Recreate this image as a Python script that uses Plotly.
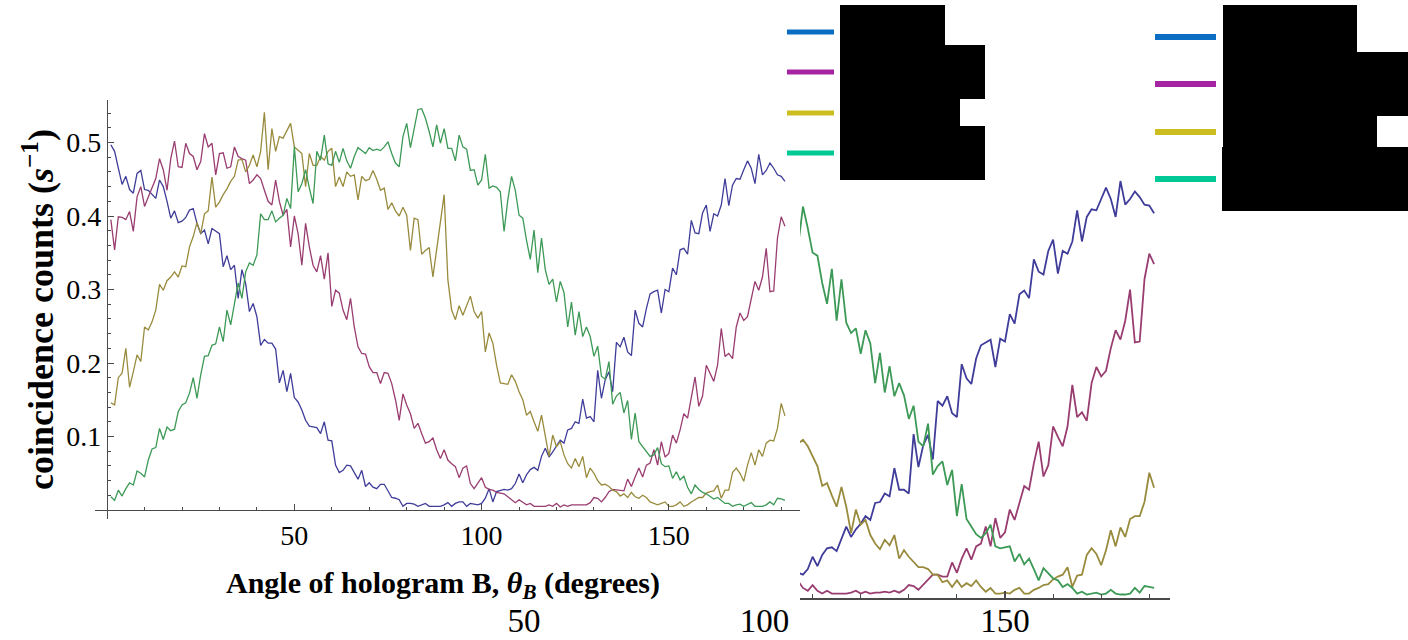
import plotly.graph_objects as go

# ---------------- data ----------------
angles_main = list(range(1, 182))          # theta_B (degrees), left chart
angles_inset = list(range(107, 182))       # theta_B (degrees), right chart (visible part)

blue_main = [0.497,0.488,0.465,0.443,0.454,0.436,0.431,0.458,0.462,0.436,0.435,0.429,0.424,0.449,0.440,0.420,0.397,0.407,0.391,0.393,0.398,0.408,0.410,0.390,0.376,0.381,0.362,0.383,0.379,0.376,0.331,0.346,0.327,0.333,0.288,0.327,0.308,0.270,0.281,0.263,0.224,0.232,0.227,0.227,0.219,0.173,
             0.190,0.161,0.186,0.153,0.147,0.136,0.122,0.114,0.113,0.112,0.104,0.120,0.095,0.094,0.061,0.051,0.054,0.061,0.060,0.050,0.042,0.054,0.032,0.037,0.031,0.029,0.035,0.035,0.025,0.017,0.016,0.014,0.005,0.009,0.009,0.008,0.005,0.007,0.009,0.005,0.005,0.005,0.005,0.007,0.010,
             0.005,0.009,0.011,0.011,0.005,0.009,0.008,0.007,0.009,0.016,0.029,0.011,0.025,0.027,0.028,0.027,0.029,0.036,0.049,0.037,0.048,0.055,0.058,0.054,0.073,0.084,0.072,0.079,0.088,0.095,0.091,0.109,0.111,0.120,0.118,0.151,0.125,0.127,0.120,0.190,0.152,0.177,0.188,0.161,0.228,0.222,
             0.235,0.215,0.210,0.272,0.254,0.249,0.274,0.294,0.297,0.299,0.268,0.300,0.297,0.329,0.320,0.354,0.356,0.348,0.394,0.377,0.376,0.404,0.415,0.379,0.403,0.400,0.415,0.451,0.414,0.442,0.451,0.450,0.463,0.475,0.465,0.444,0.484,0.456,0.462,0.472,0.465,0.456,0.454,0.447]
magenta_main = [0.395,0.354,0.399,0.398,0.395,0.406,0.379,0.426,0.440,0.413,0.426,0.438,0.451,0.478,0.463,0.435,0.478,0.502,0.467,0.466,0.499,0.485,0.481,0.463,0.474,0.512,0.494,0.499,0.456,0.485,0.486,0.465,0.467,0.494,0.481,0.478,0.476,0.444,0.449,0.456,0.451,0.435,0.420,0.415,0.449,0.420,
                0.401,0.409,0.358,0.400,0.376,0.333,0.390,0.358,0.333,0.324,0.346,0.314,0.350,0.277,0.299,0.295,0.272,0.259,0.288,0.249,0.222,0.213,0.212,0.195,0.187,0.187,0.172,0.187,0.186,0.172,0.150,0.122,0.158,0.143,0.131,0.111,0.118,0.104,0.091,0.093,0.098,0.082,0.070,0.082,0.068,
                0.063,0.059,0.044,0.057,0.060,0.036,0.029,0.036,0.044,0.031,0.028,0.027,0.024,0.023,0.022,0.018,0.014,0.010,0.014,0.011,0.007,0.009,0.005,0.005,0.005,0.005,0.007,0.005,0.009,0.004,0.007,0.005,0.007,0.007,0.008,0.007,0.007,0.010,0.017,0.016,0.011,0.017,0.025,0.028,0.027,0.027,
                0.026,0.042,0.032,0.045,0.057,0.045,0.061,0.064,0.082,0.061,0.093,0.072,0.077,0.102,0.091,0.109,0.131,0.125,0.156,0.181,0.141,0.155,0.197,0.186,0.175,0.197,0.247,0.209,0.213,0.206,0.249,0.268,0.258,0.263,0.288,0.311,0.299,0.317,0.356,0.297,0.298,0.370,0.399,0.386]
olive_main = [0.146,0.143,0.180,0.186,0.220,0.167,0.188,0.211,0.202,0.249,0.245,0.256,0.272,0.307,0.299,0.312,0.317,0.324,0.317,0.332,0.331,0.358,0.372,0.391,0.376,0.403,0.407,0.453,0.412,0.419,0.429,0.437,0.447,0.454,0.476,0.477,0.460,0.469,0.483,0.467,0.488,0.541,0.463,0.519,0.488,0.508,
              0.506,0.515,0.526,0.494,0.490,0.485,0.440,0.485,0.469,0.469,0.481,0.476,0.488,0.492,0.440,0.453,0.440,0.460,0.454,0.456,0.422,0.454,0.448,0.450,0.462,0.450,0.435,0.438,0.409,0.418,0.407,0.400,0.412,0.401,0.353,0.397,0.395,0.348,0.353,0.357,0.317,0.354,0.385,0.429,0.313,
              0.272,0.259,0.278,0.265,0.278,0.291,0.270,0.261,0.270,0.215,0.241,0.227,0.197,0.173,0.172,0.171,0.184,0.175,0.161,0.150,0.129,0.134,0.120,0.107,0.129,0.102,0.073,0.102,0.086,0.093,0.075,0.063,0.057,0.070,0.059,0.073,0.044,0.057,0.050,0.040,0.034,0.035,0.032,0.027,0.025,0.019,
              0.022,0.017,0.024,0.018,0.016,0.020,0.017,0.011,0.009,0.007,0.009,0.011,0.005,0.005,0.007,0.011,0.005,0.007,0.011,0.014,0.017,0.017,0.023,0.025,0.026,0.034,0.016,0.027,0.027,0.051,0.057,0.050,0.039,0.061,0.078,0.061,0.082,0.073,0.091,0.095,0.094,0.111,0.145,0.128]
green_main = [0.018,0.013,0.027,0.019,0.029,0.037,0.034,0.053,0.050,0.045,0.068,0.083,0.085,0.111,0.096,0.113,0.108,0.110,0.134,0.143,0.146,0.159,0.180,0.152,0.184,0.209,0.210,0.224,0.226,0.249,0.229,0.272,0.252,0.281,0.309,0.288,0.324,0.336,0.333,0.347,0.403,0.395,0.395,0.407,0.392,0.397,
              0.401,0.424,0.410,0.494,0.433,0.444,0.463,0.438,0.417,0.488,0.476,0.510,0.471,0.469,0.488,0.473,0.492,0.475,0.465,0.481,0.493,0.489,0.485,0.493,0.489,0.491,0.489,0.494,0.501,0.485,0.472,0.467,0.508,0.526,0.493,0.519,0.545,0.546,0.533,0.515,0.494,0.524,0.499,0.519,0.492,
              0.492,0.475,0.510,0.494,0.491,0.462,0.463,0.442,0.449,0.484,0.438,0.441,0.439,0.433,0.379,0.422,0.454,0.435,0.401,0.397,0.367,0.341,0.381,0.323,0.370,0.327,0.307,0.314,0.283,0.311,0.296,0.249,0.283,0.238,0.270,0.236,0.249,0.236,0.209,0.223,0.182,0.178,0.202,0.144,0.155,0.160,
              0.132,0.149,0.096,0.132,0.093,0.086,0.079,0.073,0.075,0.085,0.063,0.059,0.060,0.043,0.052,0.041,0.046,0.031,0.022,0.034,0.028,0.024,0.022,0.019,0.015,0.017,0.013,0.009,0.009,0.005,0.007,0.008,0.005,0.007,0.010,0.005,0.005,0.005,0.007,0.011,0.007,0.016,0.015,0.013]

blue_inset = [0.027,0.025,0.031,0.044,0.034,0.046,0.053,0.054,0.050,0.064,0.076,0.065,0.073,0.079,0.087,0.083,0.101,0.102,0.111,0.108,0.138,0.115,0.115,0.111,0.174,0.139,0.162,0.173,0.147,0.209,0.204,0.214,0.196,0.192,0.248,0.233,0.227,0.254,0.268,
              0.271,0.274,0.245,0.275,0.272,0.301,0.291,0.322,0.326,0.318,0.359,0.346,0.343,0.368,0.380,0.344,0.368,0.365,0.378,0.411,0.378,0.404,0.412,0.411,0.423,0.435,0.423,0.404,0.442,0.417,0.423,0.431,0.425,0.417,0.416,0.408]
magenta_inset = [0.018,0.011,0.008,0.014,0.008,0.005,0.008,0.005,0.005,0.005,0.005,0.006,0.008,0.005,0.007,0.005,0.006,0.006,0.007,0.006,0.008,0.006,0.009,0.014,0.013,0.009,0.014,0.020,0.025,0.025,0.023,0.023,0.038,0.027,0.042,0.053,0.041,0.055,0.058,
                 0.076,0.055,0.085,0.064,0.070,0.094,0.083,0.101,0.119,0.115,0.143,0.166,0.129,0.141,0.182,0.171,0.161,0.182,0.226,0.192,0.197,0.188,0.228,0.245,0.235,0.241,0.265,0.284,0.274,0.294,0.327,0.271,0.272,0.338,0.365,0.354]
olive_inset = [0.164,0.168,0.161,0.150,0.140,0.119,0.122,0.109,0.097,0.118,0.097,0.069,0.094,0.078,0.083,0.067,0.058,0.052,0.062,0.056,0.067,0.042,0.051,0.044,0.038,0.033,0.033,0.031,0.025,0.025,0.017,0.019,0.012,0.019,0.012,0.016,0.013,0.019,0.012,
               0.007,0.011,0.005,0.005,0.006,0.005,0.009,0.011,0.005,0.005,0.009,0.011,0.014,0.015,0.020,0.023,0.025,0.033,0.012,0.024,0.025,0.046,0.053,0.047,0.035,0.051,0.072,0.055,0.075,0.065,0.084,0.087,0.087,0.102,0.133,0.117]
green_inset = [0.374,0.415,0.392,0.366,0.363,0.334,0.312,0.349,0.294,0.338,0.292,0.281,0.286,0.259,0.284,0.270,0.228,0.260,0.218,0.246,0.214,0.228,0.215,0.190,0.204,0.166,0.161,0.185,0.131,0.140,0.145,0.120,0.136,0.087,0.121,0.084,0.076,0.068,0.064,
               0.069,0.078,0.055,0.053,0.054,0.055,0.039,0.047,0.036,0.042,0.031,0.019,0.032,0.026,0.021,0.019,0.012,0.015,0.011,0.005,0.007,0.004,0.005,0.006,0.004,0.005,0.009,0.005,0.004,0.004,0.005,0.011,0.006,0.013,0.012,0.011]

legend_labels = ["<i>θ</i><sub><i>A</i></sub> = 0°", "<i>θ</i><sub><i>A</i></sub> = 22.5°",
                 "<i>θ</i><sub><i>A</i></sub> = 45°", "<i>θ</i><sub><i>A</i></sub> = 67.5°"]
x_ticks_main = [50, 100, 150]
y_ticks_main = [0.1, 0.2, 0.3, 0.4, 0.5]
y_ticktext_main = ["0.1", "0.2", "0.3", "0.4", "0.5"]
x_ticks_inset = [50, 100, 150]

# ---------------- style ----------------
W, H = 1408, 640
SERIF = "Liberation Serif, Times New Roman, serif"
AX = "#4a4a4a"
curve_colors = ["rgb(63,61,153)", "rgb(153,61,113)", "rgb(153,139,61)", "rgb(61,153,86)"]
legend_colors = ["#0b6ec2", "#a624a2", "#ccbe1f", "#00c995"]

def px(x):
    return x / W

def py(y):
    return 1 - y / H

# main chart geometry (pixels)
X0, SX = 107.1, 3.745     # x pixel of 0 deg, px per degree
Y0, SY = 510.0, 735.0     # y pixel of 0 counts, px per unit
xr_main = [-3.3, 185.0]
yr_main = [-0.012, 0.558]

# inset chart geometry (pixels)
X150, SX2 = 1005.0, 4.81
Y02, SY2 = 598.3, 944.0
inset_left, inset_right = 800.0, 1170.0
label_left = 300.0

fig = go.Figure()
series_main = [blue_main, magenta_main, olive_main, green_main]
series_inset = [blue_inset, magenta_inset, olive_inset, green_inset]
for vals, col in zip(series_main, curve_colors):
    fig.add_trace(go.Scatter(x=angles_main, y=vals, mode="lines", xaxis="x", yaxis="y",
                             line=dict(color=col, width=1.3), showlegend=False, hoverinfo="skip"))
for vals, col in zip(series_inset, curve_colors):
    fig.add_trace(go.Scatter(x=angles_inset, y=vals, mode="lines", xaxis="x3", yaxis="y2",
                             line=dict(color=col, width=1.8), showlegend=False, hoverinfo="skip"))
# carrier for the wide label axis of the inset
fig.add_trace(go.Scatter(x=[None], y=[None], xaxis="x2", yaxis="y2", showlegend=False, hoverinfo="skip"))

tickfont_main = dict(family=SERIF, size=28, color="black")
tickfont_inset = dict(family=SERIF, size=33, color="black")

fig.update_layout(
    width=W, height=H, autosize=False,
    margin=dict(l=0, r=0, t=0, b=0),
    paper_bgcolor="white", plot_bgcolor="rgba(0,0,0,0)",
    xaxis=dict(
        domain=[px(X0 + SX * xr_main[0]), px(X0 + SX * xr_main[1])], range=xr_main,
        anchor="free", position=py(Y0),
        showline=True, linecolor=AX, linewidth=1.3, showgrid=False, zeroline=False,
        tickmode="array", tickvals=x_ticks_main, ticks="inside", ticklen=6, tickwidth=1.2,
        tickcolor=AX, tickfont=tickfont_main,
        minor=dict(tickmode="array", tickvals=[v for v in range(10, 181, 10) if v % 50],
                   ticks="inside", ticklen=3, tickwidth=1, tickcolor=AX, showgrid=False),
    ),
    yaxis=dict(
        domain=[py(Y0 - SY * yr_main[0]), py(Y0 - SY * yr_main[1])], range=yr_main,
        anchor="free", position=px(X0),
        showline=True, linecolor=AX, linewidth=1.3, showgrid=False, zeroline=False,
        tickmode="array", tickvals=y_ticks_main, ticktext=y_ticktext_main,
        ticks="inside", ticklen=6, tickwidth=1.2, tickcolor=AX, tickfont=tickfont_main,
        minor=dict(tickmode="array", tickvals=[i / 50 for i in range(1, 28) if i % 5],
                   ticks="inside", ticklen=3, tickwidth=1, tickcolor=AX, showgrid=False),
    ),
    xaxis2=dict(
        domain=[px(label_left), px(inset_right)],
        range=[150 - (X150 - label_left) / SX2, 150 + (inset_right - X150) / SX2],
        anchor="y2", showline=False, showgrid=False, zeroline=False, ticks="",
        tickmode="array", tickvals=x_ticks_inset, tickfont=tickfont_inset,
    ),
    xaxis3=dict(
        domain=[px(inset_left), px(inset_right)],
        range=[150 - (X150 - inset_left) / SX2, 150 + (inset_right - X150) / SX2],
        anchor="y2", showline=True, linecolor=AX, linewidth=2, showgrid=False, zeroline=False,
        tickmode="array", tickvals=[150], showticklabels=False,
        ticks="inside", ticklen=7, tickwidth=1.5, tickcolor=AX,
        minor=dict(tickmode="array", tickvals=[v for v in range(110, 181, 10) if v != 150],
                   ticks="inside", ticklen=4, tickwidth=1.2, tickcolor=AX, showgrid=False),
    ),
    yaxis2=dict(
        domain=[py(Y02), py(13)], range=[0, (Y02 - 13) / SY2], anchor="x3",
        visible=False, showgrid=False, zeroline=False,
    ),
)

# axis titles
fig.add_annotation(text="<b>coincidence counts (<i>s</i><sup>−1</sup>)</b>", textangle=-90,
                   xref="paper", yref="paper", x=px(38), y=py(310),
                   xanchor="center", yanchor="middle", showarrow=False,
                   font=dict(family=SERIF, size=36, color="black"))
fig.add_annotation(text="<b>Angle of hologram B, <i>θ</i><sub><i>B</i></sub> (degrees)</b>",
                   xref="paper", yref="paper", x=px(443), y=py(585),
                   xanchor="center", yanchor="middle", showarrow=False,
                   font=dict(family=SERIF, size=30, color="black"))

# legends: colour samples and (blacked-out) labels
legend_blocks = [
    dict(x0=787, x1=834, ys=[32, 72, 113, 153], lw=5, fs=30,
         boxes=[(840, 5, 945, 59), (840, 45, 985, 99), (840, 86, 960, 140), (840, 126, 985, 180)]),
    dict(x0=1155, x1=1216, ys=[37, 84, 132, 179], lw=6, fs=36,
         boxes=[(1223, 5, 1357, 69), (1223, 52, 1408, 116), (1223, 100, 1377, 164), (1222, 147, 1408, 211)]),
]
for blk in legend_blocks:
    for yy, col in zip(blk["ys"], legend_colors):
        fig.add_shape(type="line", xref="paper", yref="paper",
                      x0=px(blk["x0"]), x1=px(blk["x1"]), y0=py(yy), y1=py(yy),
                      line=dict(color=col, width=blk["lw"]))
    for (bx0, by0, bx1, by1) in blk["boxes"]:
        fig.add_shape(type="rect", xref="paper", yref="paper",
                      x0=px(bx0), x1=px(bx1), y0=py(by1), y1=py(by0),
                      fillcolor="black", line=dict(width=0), layer="above")
    for yy, lab, box in zip(blk["ys"], legend_labels, blk["boxes"]):
        fig.add_annotation(text=lab, xref="paper", yref="paper", x=px(box[0] + 3), y=py(yy),
                           xanchor="left", yanchor="middle", showarrow=False,
                           font=dict(family=SERIF, size=blk["fs"], color="black"))

fig.write_html("out.html", config={"displayModeBar": False},
               post_script="document.body.style.margin='0';document.body.style.overflow='hidden';")
